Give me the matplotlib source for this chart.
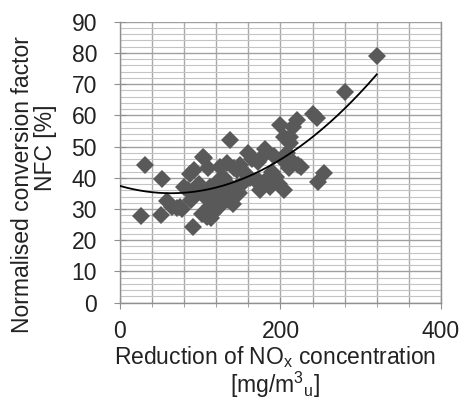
import numpy as np
import matplotlib
matplotlib.use('Agg')
import matplotlib.pyplot as plt
from matplotlib.ticker import MultipleLocator

plt.rcParams['font.family'] = ['Liberation Sans', 'DejaVu Sans']

# reduction of NOx concentration [mg/m3] and NFC [%]
nox = [26, 31, 51, 52, 58, 65, 71, 75, 77, 87, 91, 92, 95, 98, 102, 104, 105,
       108, 110, 114, 116, 120, 125, 133, 137, 141, 146, 146, 160, 181, 187,
       195, 200, 204, 204, 212, 212, 216, 220, 225, 241, 245, 247, 254, 280, 320,
       85, 88, 100, 106, 112, 118, 122, 128, 130,
       134, 138, 142, 148, 152, 155, 162, 165,
       170, 172, 178, 180, 185, 190, 192, 198,
       202, 208, 210, 215, 222, 124, 112, 135, 175,
       80, 150, 173, 190]
nfc = [27.7, 44, 28.1, 39.6, 32.5, 30.5, 30.2, 30.7, 30, 41.2, 24.2, 42.5, 35, 38,
       28.5, 46.8, 46.5, 27.5, 43, 27.2, 28.6, 33, 43.6, 44.6, 52, 31.5, 37.2,
       42.5, 47.8, 49.2, 37.2, 40.3, 57, 53.2, 36, 53, 51, 56.4, 58.4, 43.6, 60.5,
       59, 38.8, 41.6, 67.6, 79,
       36, 33, 36, 34, 37, 35, 39, 36, 40,
       38, 36, 43, 35, 38, 42, 40, 46,
       39, 45, 47, 38, 40, 42, 47, 38,
       46, 48, 43, 45, 44, 31, 31, 33, 36,
       37, 44, 39, 38]

# 2nd order polynomial trendline coefficients (a, b, c)
trend = [5.79e-4, -0.0736, 37.4]
trend_x = np.linspace(0, 320, 200)

fig = plt.figure(figsize=(4.61, 4.03), dpi=100)
ax = fig.add_axes([0.2603, 0.2489, 0.6963, 0.6973])

ax.plot(nox, nfc, linestyle='none', marker='D', markersize=9,
        color='#595959', markeredgewidth=0, zorder=3)
ax.plot(trend_x, np.polyval(trend, trend_x), color='black', lw=1.3, zorder=4)

ax.set_xlim(0, 400)
ax.set_ylim(0, 90)
ax.xaxis.set_major_locator(MultipleLocator(200))
ax.xaxis.set_minor_locator(MultipleLocator(40))
ax.yaxis.set_major_locator(MultipleLocator(10))
ax.yaxis.set_minor_locator(MultipleLocator(2))

ax.grid(which='major', axis='y', color='#a0a0a0', lw=1.0)
ax.grid(which='minor', axis='y', color='#c4c4c4', lw=0.8)
ax.grid(which='both', axis='x', color='#aaaaaa', lw=1.0)
ax.set_axisbelow(True)

ax.spines['top'].set_visible(False)
for s in ['left', 'bottom', 'right']:
    ax.spines[s].set_color('#909090')
    ax.spines[s].set_linewidth(1.0)

ax.tick_params(which='major', direction='inout', length=9, color='#909090',
               labelsize=16.5, labelcolor='#222222')
ax.tick_params(which='minor', direction='inout', length=6, color='#909090')
ax.tick_params(axis='y', which='minor', length=0)
ax.tick_params(axis='x', pad=8)
ax.tick_params(axis='y', pad=12)

fig.text(275 / 461, 1 - 357 / 403, 'Reduction of NO$_\\mathregular{x}$ concentration',
         ha='center', va='center', fontsize=16.5, color='#222222')
fig.text(275 / 461, 1 - 385 / 403, '[mg/m$^\\mathregular{3}$$_\\mathregular{u}$]',
         ha='center', va='center', fontsize=16.5, color='#222222')
fig.text(23 / 461, 1 - 185 / 403, 'Normalised conversion factor', rotation=90,
         ha='center', va='center', fontsize=16.5, color='#222222')
fig.text(45 / 461, 1 - 148 / 403, 'NFC [%]', rotation=90,
         ha='center', va='center', fontsize=16.5, color='#222222')

fig.savefig('out.png', dpi=100)
